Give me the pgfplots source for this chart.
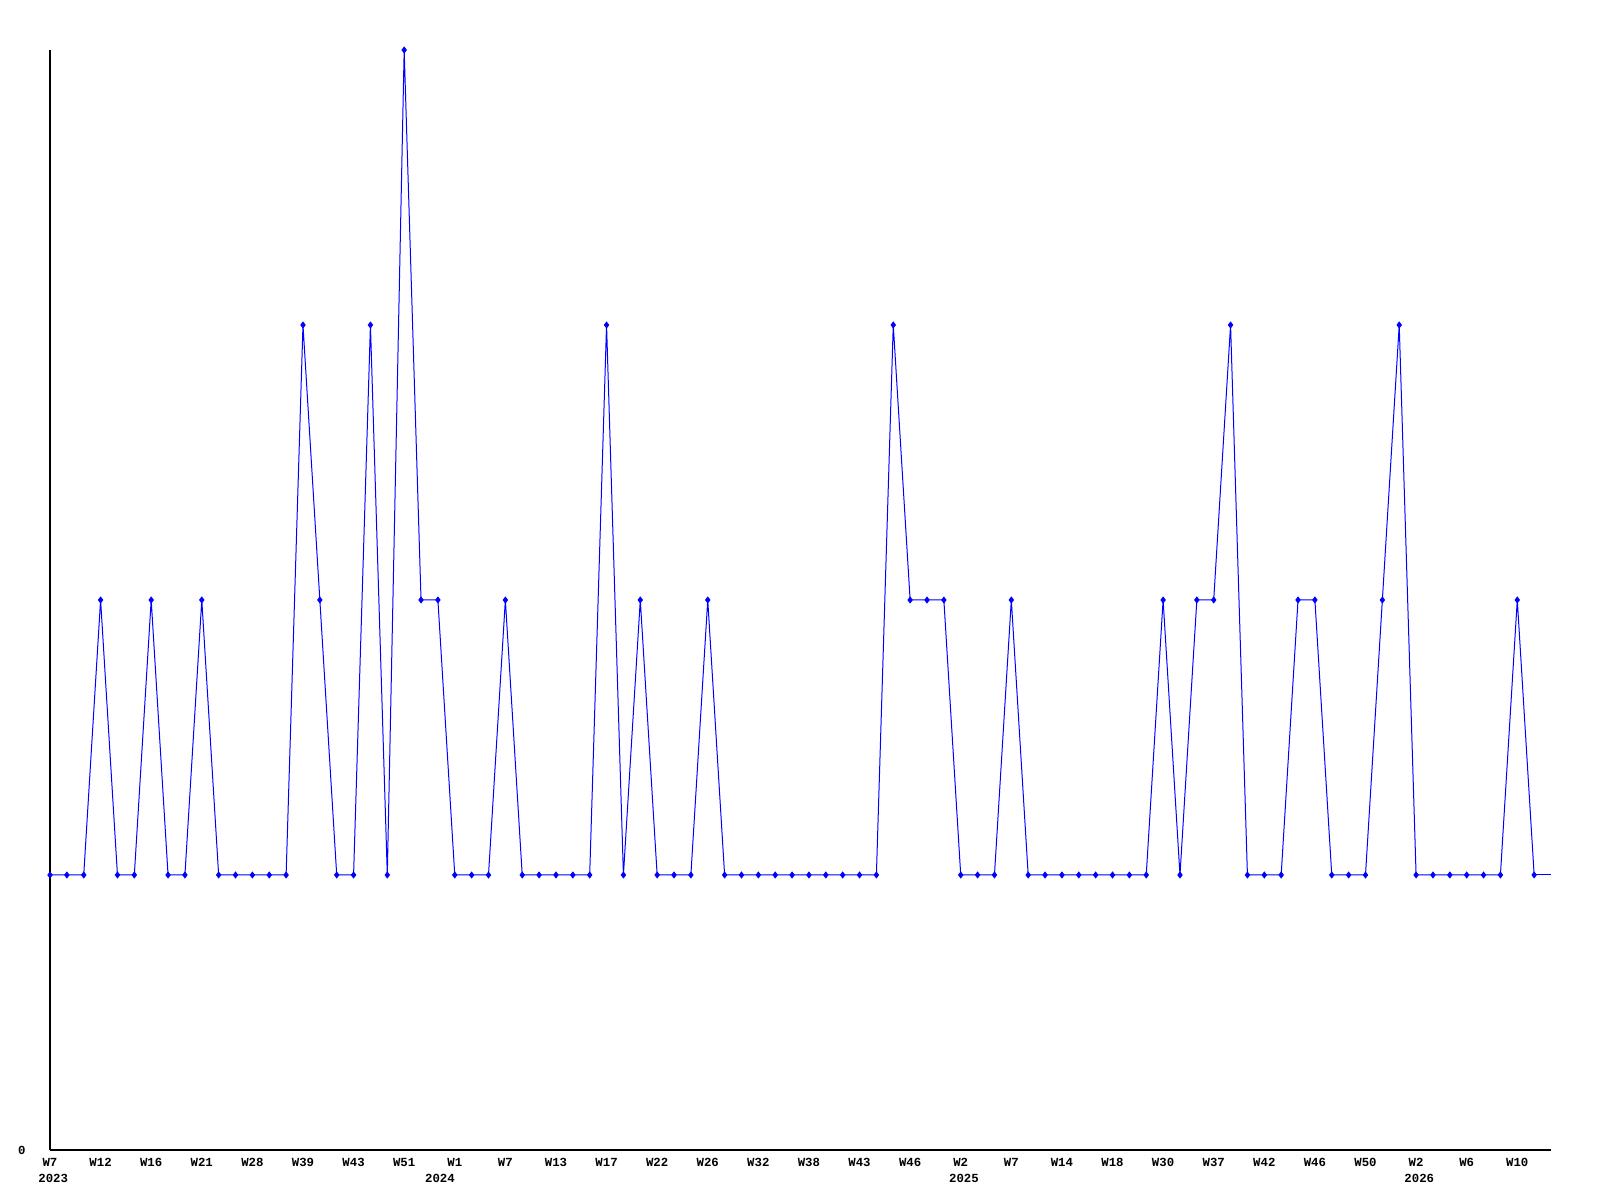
\documentclass[border=0pt]{standalone}
\usepackage{pgfplots}
\pgfplotsset{compat=1.18}
\usepackage{fontspec}
\setmonofont{Liberation Mono}
\definecolor{lineblue}{RGB}{0,0,255}
\begin{document}
\begin{tikzpicture}
\begin{axis}[
  scale only axis=true,
  width=750.5bp, height=550bp,
  xmin=0, xmax=89, ymin=-1, ymax=3,
  axis lines=left,
  axis line style={-, black, line width=0.6bp},
  major tick length=0pt,
  xtick={0,3,...,87},
  xticklabels={W7,W12,W16,W21,W28,W39,W43,W51,W1,W7,W13,W17,W22,W26,W32,W38,W43,W46,W2,W7,W14,W18,W30,W37,W42,W46,W50,W2,W6,W10},
  xticklabel style={font=\ttfamily\bfseries\fontsize{6.2}{7}\selectfont, anchor=north, inner sep=0pt, yshift=-4bp},
  extra x ticks={0,24,54,81},
  extra x tick labels={2023,\hspace*{-9bp}2024,2025,2026},
  extra x tick style={xticklabel style={anchor=north west, yshift=-7.8bp, xshift=-6bp}},
  ytick={-1}, yticklabels={0},
  yticklabel style={font=\ttfamily\bfseries\fontsize{6.2}{7}\selectfont, anchor=east, inner sep=0pt, xshift=-12bp},
  clip=false,
]
\addplot[color=lineblue, line width=0.5bp, mark=diamond*, mark size=1.4bp, mark options={fill=lineblue, draw=lineblue}] coordinates {
(0,0)(1,0)(2,0)(3,1)(4,0)(5,0)(6,1)(7,0)(8,0)(9,1)
(10,0)(11,0)(12,0)(13,0)(14,0)(15,2)(16,1)(17,0)(18,0)(19,2)
(20,0)(21,3)(22,1)(23,1)(24,0)(25,0)(26,0)(27,1)(28,0)(29,0)
(30,0)(31,0)(32,0)(33,2)(34,0)(35,1)(36,0)(37,0)(38,0)(39,1)
(40,0)(41,0)(42,0)(43,0)(44,0)(45,0)(46,0)(47,0)(48,0)(49,0)
(50,2)(51,1)(52,1)(53,1)(54,0)(55,0)(56,0)(57,1)(58,0)(59,0)
(60,0)(61,0)(62,0)(63,0)(64,0)(65,0)(66,1)(67,0)(68,1)(69,1)
(70,2)(71,0)(72,0)(73,0)(74,1)(75,1)(76,0)(77,0)(78,0)(79,1)
(80,2)(81,0)(82,0)(83,0)(84,0)(85,0)(86,0)(87,1)(88,0)
};
\addplot[color=lineblue, line width=0.5bp, mark=none] coordinates {(88,0)(89,0)};
\end{axis}
\path ([xshift=-25bp,yshift=-25bp]current axis.south west) rectangle ([xshift=24.5bp,yshift=25bp]current axis.north east);
\end{tikzpicture}
\end{document}
